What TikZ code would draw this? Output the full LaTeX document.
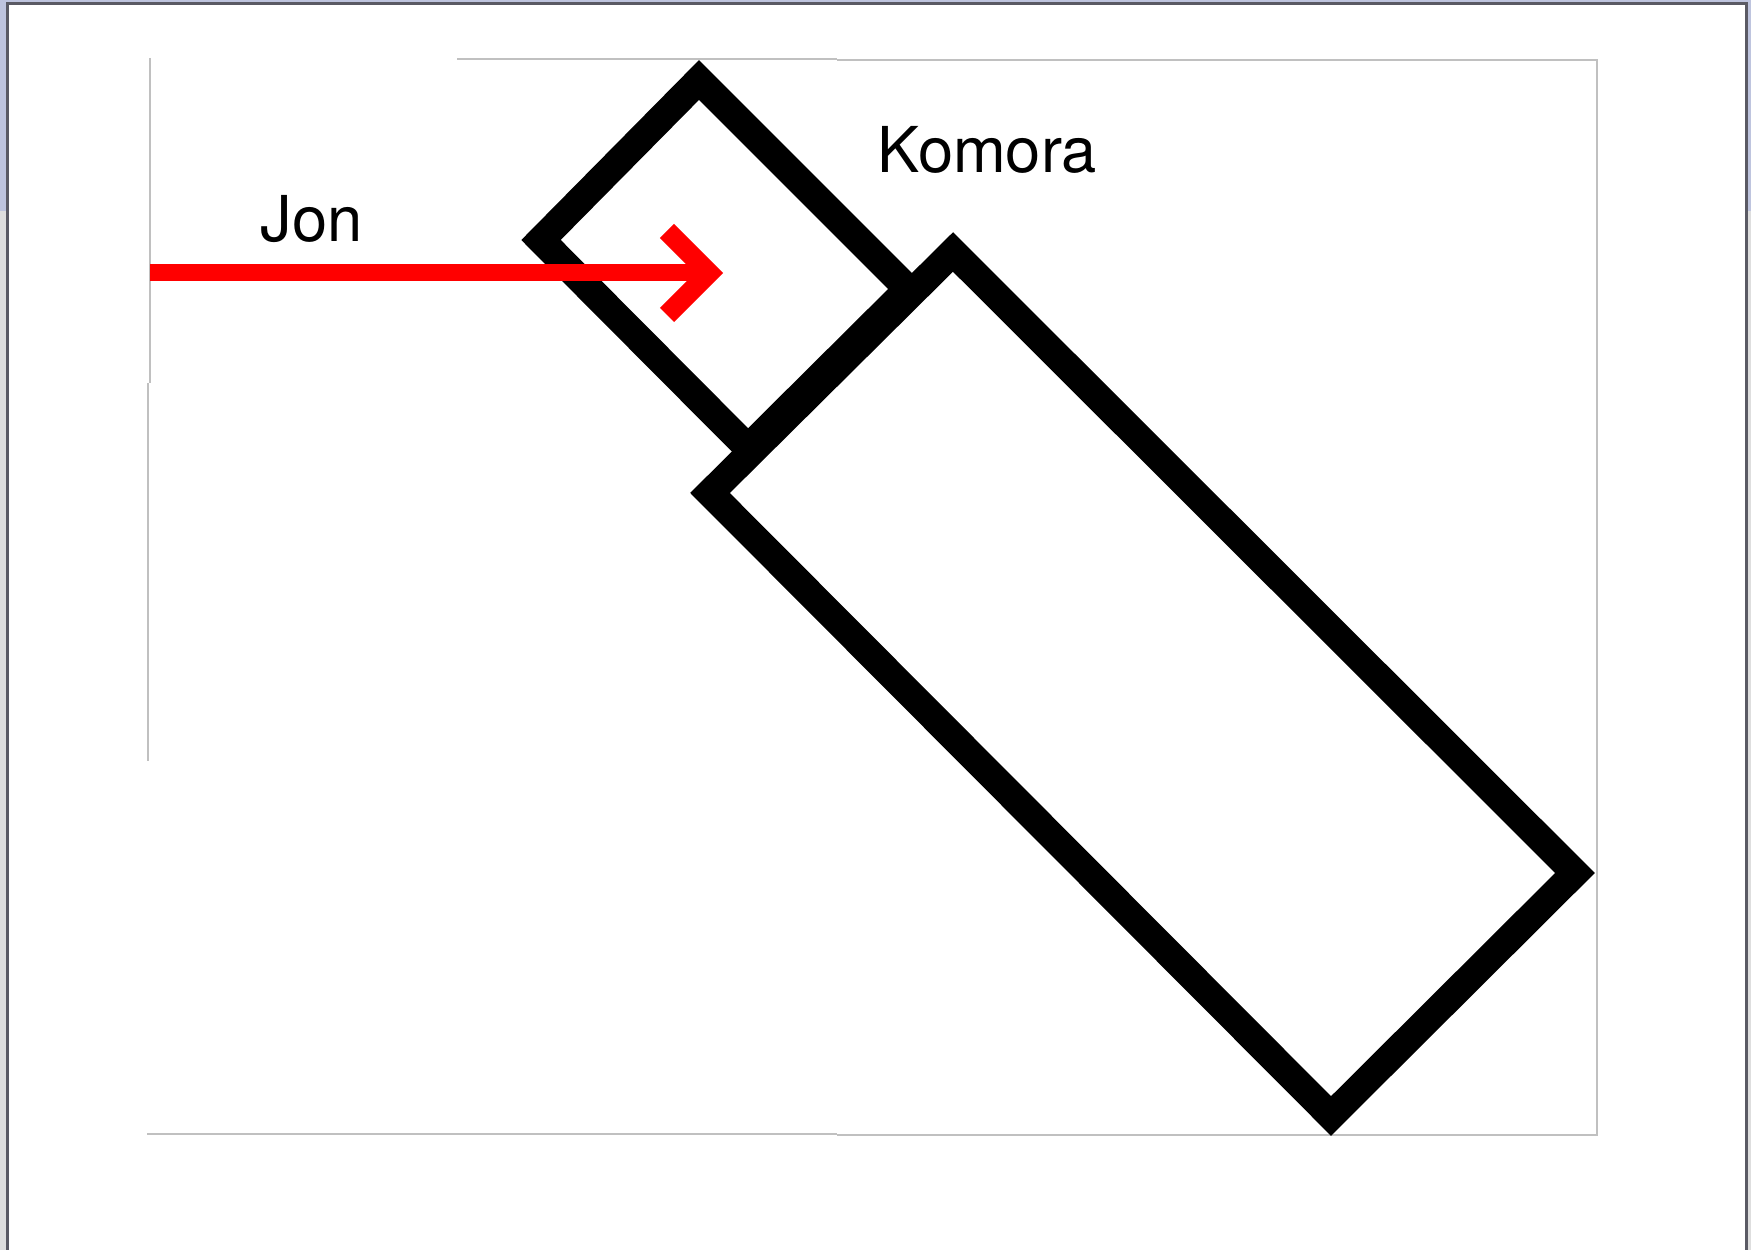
\documentclass[tikz,border=0pt]{standalone}
\usepackage{fontspec}
\setmainfont{TeX Gyre Heros}
\usepackage{tikz}
\usepackage{tkz-euclide}

\definecolor{barblue}{RGB}{190,196,222}
\definecolor{bargray}{RGB}{222,222,222}
\definecolor{edgegray}{RGB}{90,90,100}
\definecolor{framegray}{RGB}{192,192,192}

\begin{document}
\begin{tikzpicture}[chamberwall/.style={black, line width=0.28cm, line join=miter},
                    ray/.style={red, line width=0.17cm, line cap=butt},
                    framing/.style={framegray, line width=0.4pt},
                    caption/.style={anchor=base west, inner sep=0pt, font=\fontsize{18}{20}\selectfont}]
                \useasboundingbox (0,0) rectangle (17.51,12.50);
                \fill[white] (0,0) rectangle (17.51,12.50);
                \fill[bargray] (0,0) rectangle (0.07,12.50);
                \fill[barblue] (0,10.39) rectangle (0.07,12.50);
                \fill[bargray] (17.47,0) rectangle (17.51,12.50);
                \fill[barblue] (17.47,10.39) rectangle (17.51,12.50);
                \fill[barblue] (0,12.47) rectangle (17.51,12.50);
                \draw[edgegray, line width=0.6pt] (0.075,0) -- (0.075,12.465) -- (17.465,12.465) -- (17.465,0);
                \draw[framing] (1.50,11.92) -- (1.50,8.67);
                \draw[framing] (1.48,8.67) -- (1.48,4.89);
                \draw[framing] (4.57,11.91) -- (8.37,11.91);
                \draw[framing] (8.37,11.90) -- (15.97,11.90) -- (15.97,1.15) -- (8.37,1.15);
                \draw[framing] (8.37,1.16) -- (1.47,1.16);
                \tkzDefPoints{6.99/11.70/A, 5.41/10.10/B, 7.48/8.02/C, 9.08/9.61/D}
                \tkzDefPoints{9.53/9.98/E, 7.10/7.57/F, 13.31/1.34/G, 15.75/3.77/H}
                \draw[chamberwall] (A) -- (B) -- (C) -- (D) -- cycle;
                \draw[chamberwall] (E) -- (F) -- (G) -- (H) -- cycle;
                \tkzDefPoints{1.50/9.77/P, 7.09/9.77/Q, 6.67/10.19/U, 6.67/9.35/V}
                \draw[ray] (P) -- (Q);
                \draw[ray, line width=0.2cm, line join=miter] (U) -- (Q) -- (V);
                \node[caption] (jon) at (2.60,10.08) {Jon};
                \node[caption] (komora) at (8.77,10.77) {Komora};
            \end{tikzpicture}
\end{document}
